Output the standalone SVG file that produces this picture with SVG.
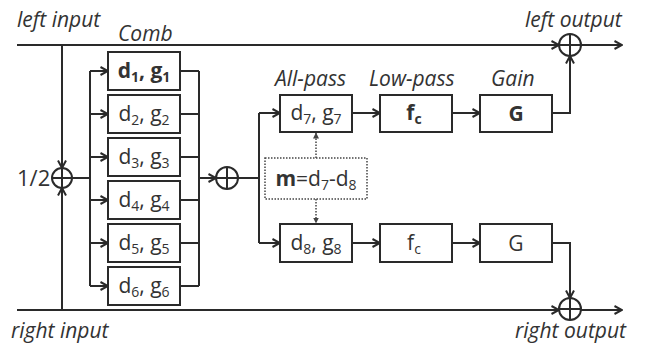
<svg xmlns="http://www.w3.org/2000/svg" width="648" height="344" viewBox="0 0 648 344">
<style>
.ln{fill:none;stroke:#2a2a2a;stroke-width:2}
.bx{fill:#fff;stroke:#2a2a2a;stroke-width:2}
.dot{fill:none;stroke:#444;stroke-width:1.5;stroke-dasharray:1.5 1.5}
.t{font-family:"Open Sans","Liberation Sans",sans-serif;font-size:21px;fill:#333}
.lb{font-family:"Open Sans","Liberation Sans",sans-serif;font-size:21px;font-style:italic;fill:#333}
.b{font-weight:bold}
.s{font-size:14px}
</style>
<defs>
<marker id="arr" viewBox="0 0 10 10" refX="9" refY="5" markerWidth="10" markerHeight="10" markerUnits="userSpaceOnUse" orient="auto">
<path d="M1.5,1 L9,5 L1.5,9" fill="none" stroke="#2a2a2a" stroke-width="2"/>
</marker>
<marker id="sarr" viewBox="0 0 6 6" refX="5.5" refY="3" markerWidth="6" markerHeight="6" markerUnits="userSpaceOnUse" orient="auto">
<path d="M0,0 L6,3 L0,6 Z" fill="#444"/>
</marker>
</defs>
<rect width="648" height="344" fill="#fff"/>
<g id="connectors">
<path class="ln" d="M17,45 H559" marker-end="url(#arr)"/>
<path class="ln" d="M581,45 H622" marker-end="url(#arr)"/>
<path class="ln" d="M17,310 H559" marker-end="url(#arr)"/>
<path class="ln" d="M581,310 H622" marker-end="url(#arr)"/>
<path class="ln" d="M62,45 V168" marker-end="url(#arr)"/>
<path class="ln" d="M62,310 V188" marker-end="url(#arr)"/>
<path class="ln" d="M72,178 H90 M90,71 V286"/>
<path class="ln" d="M90,71 H108" marker-end="url(#arr)"/>
<path class="ln" d="M90,114 H108" marker-end="url(#arr)"/>
<path class="ln" d="M90,157 H108" marker-end="url(#arr)"/>
<path class="ln" d="M90,200 H108" marker-end="url(#arr)"/>
<path class="ln" d="M90,243 H108" marker-end="url(#arr)"/>
<path class="ln" d="M90,286 H108" marker-end="url(#arr)"/>
<path class="ln" d="M180,71 H199 M180,114 H199 M180,157 H199 M180,200 H199 M180,243 H199 M180,286 H199 M199,71 V286"/>
<path class="ln" d="M199,178 H216" marker-end="url(#arr)"/>
<path class="ln" d="M238,178 H259 M259,113 V243"/>
<path class="ln" d="M259,113 H280" marker-end="url(#arr)"/>
<path class="ln" d="M259,243 H280" marker-end="url(#arr)"/>
<path class="ln" d="M352,113 H380" marker-end="url(#arr)"/>
<path class="ln" d="M452,113 H480" marker-end="url(#arr)"/>
<path class="ln" d="M352,243 H380" marker-end="url(#arr)"/>
<path class="ln" d="M452,243 H480" marker-end="url(#arr)"/>
<path class="ln" d="M552,113 H570 V56" marker-end="url(#arr)"/>
<path class="ln" d="M552,243 H570 V298" marker-end="url(#arr)"/>
<path class="dot" d="M316,158 V133" marker-end="url(#sarr)"/>
<path class="dot" d="M316,199 V223" marker-end="url(#sarr)"/>
</g>
<g id="sum-in">
<circle class="ln" cx="62" cy="178" r="10"/>
<path class="ln" d="M52,178 H72 M62,168 V188"/>
<text class="t" x="17" y="186" style="font-size:22px">1/2</text>
</g>
<g id="sum-mid">
<circle class="ln" cx="227" cy="178" r="11"/>
<path class="ln" d="M216,178 H238 M227,167 V189"/>
</g>
<g id="sum-left">
<circle class="ln" cx="570" cy="45" r="11"/>
<path class="ln" d="M559,45 H581 M570,34 V56"/>
</g>
<g id="sum-right">
<circle class="ln" cx="570" cy="309" r="11"/>
<path class="ln" d="M559,309 H581 M570,298 V320"/>
</g>
<g id="comb1"><rect class="bx" x="108" y="52" width="72" height="38"/><text class="t b" x="144" y="78" text-anchor="middle">d<tspan class="s" dy="4">1</tspan><tspan dy="-4">, g</tspan><tspan class="s" dy="4">1</tspan></text></g>
<g id="comb2"><rect class="bx" x="108" y="95" width="72" height="38"/><text class="t" x="144" y="121" text-anchor="middle">d<tspan class="s" dy="4">2</tspan><tspan dy="-4">, g</tspan><tspan class="s" dy="4">2</tspan></text></g>
<g id="comb3"><rect class="bx" x="108" y="138" width="72" height="38"/><text class="t" x="144" y="164" text-anchor="middle">d<tspan class="s" dy="4">3</tspan><tspan dy="-4">, g</tspan><tspan class="s" dy="4">3</tspan></text></g>
<g id="comb4"><rect class="bx" x="108" y="181" width="72" height="38"/><text class="t" x="144" y="207" text-anchor="middle">d<tspan class="s" dy="4">4</tspan><tspan dy="-4">, g</tspan><tspan class="s" dy="4">4</tspan></text></g>
<g id="comb5"><rect class="bx" x="108" y="224" width="72" height="38"/><text class="t" x="144" y="250" text-anchor="middle">d<tspan class="s" dy="4">5</tspan><tspan dy="-4">, g</tspan><tspan class="s" dy="4">5</tspan></text></g>
<g id="comb6"><rect class="bx" x="108" y="267" width="72" height="38"/><text class="t" x="144" y="293" text-anchor="middle">d<tspan class="s" dy="4">6</tspan><tspan dy="-4">, g</tspan><tspan class="s" dy="4">6</tspan></text></g>
<g id="ap7"><rect class="bx" x="280" y="95" width="72" height="37"/><text class="t" x="316" y="120" text-anchor="middle">d<tspan class="s" dy="4">7</tspan><tspan dy="-4">, g</tspan><tspan class="s" dy="4">7</tspan></text></g>
<g id="ap8"><rect class="bx" x="280" y="224" width="72" height="38"/><text class="t" x="316" y="250" text-anchor="middle">d<tspan class="s" dy="4">8</tspan><tspan dy="-4">, g</tspan><tspan class="s" dy="4">8</tspan></text></g>
<g id="lp1"><rect class="bx" x="380" y="95" width="72" height="37"/><text class="t b" x="414" y="120" text-anchor="middle">f<tspan class="s" dy="4">c</tspan></text></g>
<g id="lp2"><rect class="bx" x="380" y="224" width="72" height="38"/><text class="t" x="414" y="250" text-anchor="middle">f<tspan class="s" dy="4">c</tspan></text></g>
<g id="g1"><rect class="bx" x="480" y="95" width="72" height="37"/><text class="t b" x="516" y="121" text-anchor="middle">G</text></g>
<g id="g2"><rect class="bx" x="480" y="224" width="72" height="38"/><text class="t" x="516" y="251" text-anchor="middle">G</text></g>
<g id="mod"><rect class="dot" x="265" y="158" width="102" height="41"/><text class="t" x="316" y="186" text-anchor="middle"><tspan class="b">m</tspan>=d<tspan class="s" dy="4">7</tspan><tspan dy="-4">-d</tspan><tspan class="s" dy="4">8</tspan></text></g>
<g id="labels">
<text class="lb" x="17" y="27">left input</text>
<text class="lb" x="118" y="41">Comb</text>
<text class="lb" x="275" y="86">All-pass</text>
<text class="lb" x="369" y="86">Low-pass</text>
<text class="lb" x="491" y="86">Gain</text>
<text class="lb" x="525" y="27">left output</text>
<text class="lb" x="11" y="338">right input</text>
<text class="lb" x="515" y="338">right output</text>
</g>
</svg>
